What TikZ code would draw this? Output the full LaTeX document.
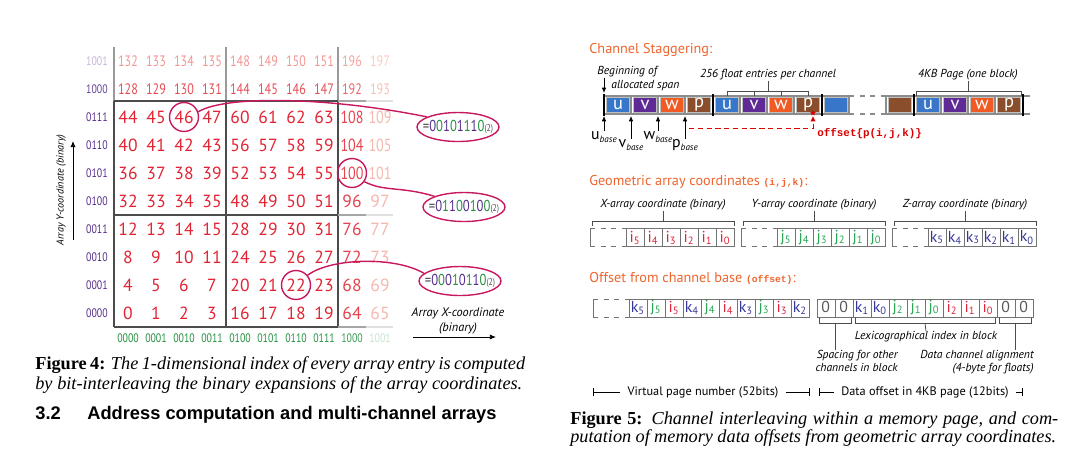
\documentclass[tikz,border=0pt]{standalone}
\usepackage{fontspec}
\setmainfont{PT Sans}
\setmonofont{Liberation Mono}
\newfontfamily\condfont[FakeStretch=0.8]{PT Sans}
\newfontfamily\capfont{Liberation Serif}
\newfontfamily\headfont{Liberation Sans}
\usepackage{xcolor}
\usetikzlibrary{arrows.meta,positioning,shapes.geometric}

\definecolor{numred}{RGB}{225,35,50}
\definecolor{numfade}{RGB}{250,215,200}
\definecolor{ycol}{RGB}{85,45,140}
\definecolor{xcol}{RGB}{35,145,65}
\definecolor{callout}{RGB}{200,25,95}
\definecolor{headorange}{RGB}{238,100,45}
\definecolor{chu}{RGB}{55,118,200}
\definecolor{chv}{RGB}{96,42,150}
\definecolor{chw}{RGB}{242,90,35}
\definecolor{chp}{RGB}{138,78,45}
\definecolor{bi}{RGB}{222,35,60}
\definecolor{bj}{RGB}{40,165,85}
\definecolor{bk}{RGB}{55,55,150}
\colorlet{b0}{black!65}

% interleaved bits, y-bits purple and x-bits green
\newcommand{\ilv}[8]{\textcolor{black!70}{=}\textcolor{ycol}{#1}\textcolor{xcol}{#2}\textcolor{ycol}{#3}\textcolor{xcol}{#4}\textcolor{ycol}{#5}\textcolor{xcol}{#6}\textcolor{ycol}{#7}\textcolor{xcol}{#8}\textcolor{black!70}{\fontsize{5.5}{5.5}\selectfont(2)}}
% base pointer label
\newcommand{\basep}[1]{#1\raisebox{-0.35ex}{\fontsize{5.2}{5.2}\selectfont\itshape base}}

\begin{document}
\begin{tikzpicture}[x=0.02cm, y=-0.02cm,
    num/.style={inner sep=0},
    ylab/.style={anchor=east, inner sep=0, font=\condfont\fontsize{7}{7}\selectfont},
    xlab/.style={inner sep=0, font=\condfont\fontsize{7}{7}\selectfont},
    gridln/.style={line width=0.7pt, draw=black!70},
    axlab/.style={inner sep=0, align=center, font=\fontsize{7}{8.2}\selectfont\itshape},
    axarr/.style={-{Latex[length=3.5pt,width=3pt]}, line width=0.5pt},
    hl/.style={circle, draw=callout, line width=0.8pt, minimum size=0.58cm, inner sep=0},
    binell/.style={ellipse, draw=callout, line width=0.8pt, minimum width=1.64cm, minimum height=0.58cm, inner sep=0},
    bintxt/.style={inner sep=0, font=\condfont\fontsize{9}{9}\selectfont},
    callln/.style={draw=callout, line width=0.8pt},
    capline/.style={anchor=west, inner sep=0, font=\capfont\fontsize{10.4}{12}\selectfont},
    head/.style={anchor=west, inner sep=0, text=headorange, font=\fontsize{8.1}{9}\selectfont},
    note/.style={inner sep=0, font=\fontsize{6.6}{7.6}\selectfont\itshape},
    stripln/.style={draw=black!45, line width=0.6pt},
    cell/.style={minimum width=0.47cm, minimum height=0.29cm, inner sep=0, draw=black!25, line width=0.4pt, text=white, font=\fontsize{10.5}{10.5}\selectfont},
    blockbar/.style={line width=1.3pt},
    smarr/.style={-{Latex[length=3pt,width=2.6pt]}, line width=0.45pt},
    brk/.style={draw=black!70, line width=0.45pt},
    basel/.style={anchor=north, inner sep=0, font=\fontsize{9}{9}\selectfont},
    offarr/.style={draw=red!85!black, densely dashed, line width=0.45pt, -{Latex[length=3pt,width=3pt]}},
    offs/.style={anchor=west, inner sep=0, text=red!85!black, font=\ttfamily\bfseries\fontsize{6.2}{6.2}\selectfont},
    bit/.style={draw=black!55, line width=0.45pt, minimum width=0.36cm, minimum height=0.36cm, inner sep=0, font=\fontsize{9}{9}\selectfont},
    bitln/.style={draw=black!55, line width=0.45pt},
    dimtxt/.style={inner xsep=4pt, inner ysep=0, font=\fontsize{7}{7}\selectfont},
    dimln/.style={line width=0.45pt}
]
\useasboundingbox (0,0) rectangle (1080,458);

% ---------------- Figure 4: index grid
\foreach \xx in {114,226,338} {
  \draw[gridln] (\xx,101) -- (\xx,327);
  \draw[gridln, draw=black!40] (\xx,47) -- (\xx,101);
}
\foreach \yy in {101,215,327} {
  \draw[gridln] (114,\yy) -- (338,\yy);
  \draw[gridln, draw=black!35] (338,\yy) -- (366,\yy);
  \draw[gridln, draw=black!12] (366,\yy) -- (393,\yy);
}
\foreach \r in {0,...,9} {
  \foreach \c in {0,...,9} {
    \pgfmathtruncatemacro\bid{8*int(int(\r/4)/2)+4*int(int(\c/4)/2)+2*mod(int(\r/4),2)+mod(int(\c/4),2)}
    \pgfmathtruncatemacro\idx{16*\bid+4*mod(\r,4)+mod(\c,4)}
    \pgfmathtruncatemacro\shade{ifthenelse(\r<8,100,ifthenelse(\r==8,78,36))*ifthenelse(\c<8,100,ifthenelse(\c==8,82,18))/100}
    \pgfmathsetmacro\fs{ifthenelse(\r<8,10,8.6)}
    \node[num, text=numred!\shade!numfade] (n\r-\c) at ({128+28*\c},{313-28*\r})
      {\fontsize{\fs}{\fs}\selectfont\ifnum\idx>99 \condfont\fi\idx};
  }
}
\foreach \r/\b/\cc in {0/0000/ycol, 1/0001/ycol, 2/0010/ycol, 3/0011/ycol, 4/0100/ycol,
    5/0101/ycol, 6/0110/ycol, 7/0111/ycol, 8/1000/ycol!90, 9/1001/ycol!35}
  \node[ylab, text=\cc] (y\r) at (108,{313-28*\r}) {\b};
\foreach \c/\b/\cc in {0/0000/xcol, 1/0001/xcol, 2/0010/xcol, 3/0011/xcol, 4/0100/xcol,
    5/0101/xcol, 6/0110/xcol, 7/0111/xcol, 8/1000/xcol!90, 9/1001/xcol!25}
  \node[xlab, text=\cc] (x\c) at ({128+28*\c},338) {\b};

% axes
\coordinate (ytail) at (73,240);
\coordinate (ytip) at (73,141);
\draw[axarr] (ytail) -- (ytip);
\node[axlab, rotate=90, font=\fontsize{5.8}{6.5}\selectfont\itshape] (ytxt) at (61,190) {Array Y-coordinate (binary)};
\node[axlab] (xtxt) at (458,321) {Array X-coordinate\\(binary)};
\coordinate (xtail) at (413,337);
\coordinate (xtip) at (496,337);
\draw[axarr] (xtail) -- (xtip);

% callouts
\node[hl] (h46) at (n7-2) {};
\node[hl] (h100) at (n5-8) {};
\node[hl] (h22) at (n1-6) {};
\node[binell] (b46) at (458,127) {};
\node[binell] (b100) at (464,207) {};
\node[binell] (b22) at (460,281) {};
\node[bintxt] (t46) at (b46) {\ilv 00101110};
\node[bintxt] (t100) at (b100) {\ilv 01100100};
\node[bintxt] (t22) at (b22) {\ilv 00010110};
\draw[callln] (h46.20) .. controls (225,95) and (330,97) .. (b46.162);
\draw[callln] (h100.-35) .. controls (385,192) and (400,186) .. (b100.160);
\draw[callln] (h22.40) .. controls (330,258) and (395,256) .. (b22.168);

% caption and section title
\node[capline] (cap4a) at (35,365) {\makebox[9.8cm][s]{\textbf{Figure 4:} \textit{The 1-dimensional index of every array entry is computed}}};
\node[capline] (cap4b) at (35,385) {\makebox[9.74cm][s]{\textit{by bit-interleaving the binary expansions of the array coordinates.}}};
\node[anchor=west, inner sep=0, font=\headfont\bfseries\fontsize{10.4}{12}\selectfont] (sec) at (35,415)
  {\makebox[1.04cm][l]{3.2}Address computation and multi-channel arrays};

% ---------------- Figure 5: channel staggering
\node[head] (hstag) at (589,50) {Channel Staggering:};
\draw[stripln] (604,96) -- (849,96) (604,114) -- (849,114) (886,96) -- (1030,96) (886,114) -- (1030,114);
\draw[stripln, dashed] (849,96) -- (886,96) (849,114) -- (886,114);
\foreach \x in {631,658,685,740,767,794,849,886,941,968,995}
  \draw[stripln] (\x,96) -- (\x,114);
\foreach \x/\c/\t in {618/chu/u, 645/chv/v, 672/chw/w, 699/chp/p, 727/chu/u, 754/chv/v, 781/chw/w, 808/chp/p,
    836/chu/, 900/chp/, 928/chu/u, 955/chv/v, 982/chw/w, 1009/chp/p}
  \node[cell, fill=\c] (m\x) at (\x,105) {\t};
\foreach \x in {604,713,822,914,1023}
  \draw[blockbar] (\x,94) -- (\x,116);

\node[note, anchor=west] (beg) at (597,72) {Beginning of};
\node[note, anchor=west] (alloc) at (611,86) {allocated span};
\coordinate (spanstart) at (604,93);
\draw[smarr] (beg.south west -| spanstart) -- (spanstart);

\node[note] (perch) at (768,75) {256 float entries per channel};
\draw[brk] (727,96) -- (727,91) -- (808,91) -- (808,96);
\draw[brk] (754,91) -- (754,96) (781,91) -- (781,96);
\draw[brk] (768,91) -- (perch.south);
\node[note] (pg) at (968,75) {4KB Page (one block)};
\draw[brk] (916,96) -- (916,91) -- (1021,91) -- (1021,96);
\draw[brk] (968,91) -- (pg.south);

\node[basel] (ub) at (604,131) {\basep{u}};
\node[basel] (vb) at (631,139) {\basep{v}};
\node[basel] (wb) at (658,131) {\basep{w}};
\node[basel] (pb) at (685,139) {\basep{p}};
\foreach \n/\x in {ub/604,vb/631,wb/658,pb/685} {
  \coordinate (\n a) at (\x,116);
  \draw[smarr] (\n.north) -- (\n a);
}
\coordinate (offstart) at (689,128);
\coordinate (offtip) at (813,116);
\draw[offarr] (offstart) -| (offtip);
\node[star, star points=5, star point ratio=2.2, fill=red!85!black, inner sep=0, minimum size=0.12cm] (ostar) at (813,113) {};
\node[offs] (offtxt) at (817,134) {offset\{p(i,j,k)\}};

% ---------------- geometric coordinates
\node[head] (hgeo) at (589,182) {Geometric array coordinates {\ttfamily\bfseries\fontsize{5.5}{6}\selectfont(i,j,k)}:};
\foreach \g/\l/\gx in {X/i/590, Y/j/741, Z/k/892} {
  \draw[bitln] (\gx,228.5) -- (\gx,246.5);
  \draw[bitln, dashed] (\gx,228.5) -- ++(36,0) (\gx,246.5) -- ++(36,0);
  \foreach \n in {5,...,0}
    \node[bit, text=b\l] (\l\n) at ({\gx+45+18*(5-\n)},237.5) {\l\textsubscript{\n}};
  \node[note] (\g lab) at ({\gx+73},205) {\g-array coordinate (binary)};
  \draw[brk] ({\gx+2},226) |- ({\gx+144},221) -- ({\gx+144},226);
  \draw[brk] ({\gx+73},221) -- (\g lab.south);
}

% ---------------- offset
\node[head] (hoff) at (589,278) {Offset from channel base {\ttfamily\bfseries\fontsize{5.5}{6}\selectfont(offset)}:};
\draw[bitln] (593,299) -- (593,317);
\draw[bitln, dashed] (593,299) -- (629,299) (593,317) -- (629,317);
\foreach \l/\n [count=\m from 0] in {k/5,j/5,i/5,k/4,j/4,i/4,k/3,j/3,i/3,k/2}
  \node[bit, text=b\l] (ol\m) at ({638+18*\m},308) {\l\textsubscript{\n}};
\foreach \l/\n [count=\m from 0] in {0/,0/,k/1,k/0,j/2,j/1,j/0,i/2,i/1,i/0,0/,0/}
  \node[bit, text=b\l] (or\m) at ({826+18*\m},308) {\l\textsubscript{\n}};

\draw[brk] (819,318) |- (851,323) -- (851,318);
\draw[brk] (855,318) |- (995,323) -- (995,318);
\draw[brk] (999,318) |- (1031,323) -- (1031,318);
\node[note, align=right, anchor=north east] (spc) at (898,350) {Spacing for other\\channels in block};
\node[note] (lex) at (926,337) {Lexicographical index in block};
\node[note, align=right, anchor=north east] (dca) at (1034,350) {Data channel alignment\\(4-byte for floats)};
\coordinate (spcb) at (835,323);
\coordinate (lexb) at (925,323);
\coordinate (dcab) at (1015,323);
\draw[brk] (spcb) -- (spcb |- spc.north);
\draw[brk] (lexb) -- (lex.north);
\draw[brk] (dcab) -- (dcab |- dca.north);

% page number / offset widths
\node[dimtxt] (vpn) at (703,392) {Virtual page number (52bits)};
\coordinate (vpnl) at (593,392);
\coordinate (vpnr) at (810,392);
\draw[dimln, {Bar[width=5pt]}-] (vpnl) -- (vpn.west);
\draw[dimln, -{Bar[width=5pt]}] (vpn.east) -- (vpnr);
\node[dimtxt] (dof) at (925,392) {Data offset in 4KB page (12bits)};
\coordinate (dofl) at (819,392);
\coordinate (dofr) at (1023,392);
\draw[dimln, {Bar[width=5pt]}-] (dofl) -- (dof.west);
\draw[dimln, -{Bar[width=5pt]}] (dof.east) -- (dofr);

\node[capline] (cap5a) at (570,420) {\makebox[9.76cm][s]{\textbf{Figure 5:}\enspace\textit{Channel interleaving within a memory page, and com-}}};
\node[capline] (cap5b) at (570,438) {\makebox[9.72cm][s]{\textit{putation of memory data offsets from geometric array coordinates.}}};
\end{tikzpicture}
\end{document}
